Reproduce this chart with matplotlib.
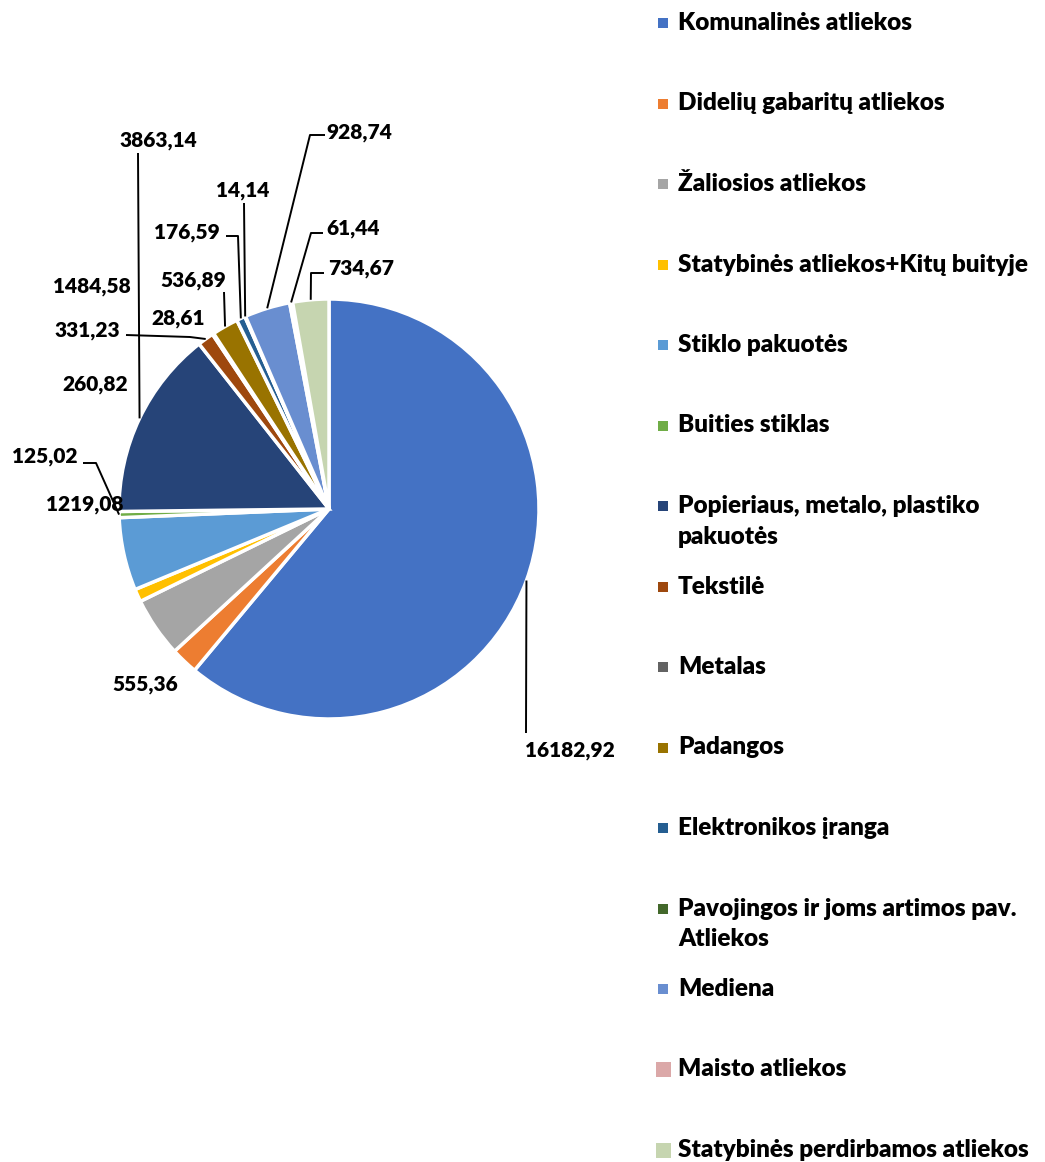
import numpy as np
import matplotlib
matplotlib.use("Agg")
import matplotlib.pyplot as plt
from matplotlib.patches import Rectangle

W, H = 1045, 1162

CATEGORIES = [
    "Komunalinės atliekos",
    "Didelių gabaritų atliekos",
    "Žaliosios atliekos",
    "Statybinės atliekos+Kitų buityje",
    "Stiklo pakuotės",
    "Buities stiklas",
    "Popieriaus, metalo, plastiko\npakuotės",
    "Tekstilė",
    "Metalas",
    "Padangos",
    "Elektronikos įranga",
    "Pavojingos ir joms artimos pav.\nAtliekos",
    "Mediena",
    "Maisto atliekos",
    "Statybinės perdirbamos atliekos",
]
VALUES = [16182.92, 555.36, 1219.08, 260.82, 1484.58, 125.02, 3863.14,
          331.23, 28.61, 536.89, 176.59, 14.14, 928.74, 61.44, 734.67]
COLORS = ["#4472C4", "#ED7D31", "#A5A5A5", "#FFC000", "#5B9BD5", "#70AD47",
          "#264478", "#9E480E", "#636363", "#997300", "#255E91", "#43682B",
          "#698ED0", "#DBA8A8", "#C6D5B0"]

# label placement in pixels (text centre) and elbow points of the leader lines
LABEL_POS = [(570, 750), (145, 683), (85, 503), (95, 383), (92, 285),
             (45, 456), (158, 139), (87, 329), (178, 317), (193, 279),
             (187, 231), (243, 190), (359, 132), (353, 228), (361, 267)]
LEADERS = [[(526, 733)], [], [], [], [], [(83, 463), (96, 463)], [(138, 153)],
           [(126, 335), (190, 337)], [], [(224, 292)], [(226, 236), (238, 236)],
           [(244, 203)], [(325, 135), (310, 135)], [(323, 233), (311, 233)],
           [(324, 273), (311, 273)]]

CX, CY, R = 329, 509, 210
FONT = ["Lato", "DejaVu Sans"]
FS = 15
FS_LEG = 17.5
WEIGHT = "heavy"


def main():
    fig = plt.figure(figsize=(W / 100, H / 100), dpi=100)
    ax = fig.add_axes([0, 0, 1, 1])
    wedges, _ = ax.pie(VALUES, colors=COLORS, startangle=90, counterclock=False,
                       center=(CX, H - CY), radius=R,
                       wedgeprops=dict(edgecolor="white", linewidth=2.5))
    ax.set_xlim(0, W)
    ax.set_ylim(0, H)
    ax.axis("off")

    for w, v, (tx, ty), pts in zip(wedges, VALUES, LABEL_POS, LEADERS):
        if pts:
            th = np.deg2rad((w.theta1 + w.theta2) / 2)
            mx = w.center[0] + w.r * np.cos(th)
            my = w.center[1] + w.r * np.sin(th)
            xs = [p[0] for p in pts] + [mx]
            ys = [H - p[1] for p in pts] + [my]
            ax.plot(xs, ys, color="black", lw=1.4, solid_capstyle="butt")
        ax.text(tx, H - ty - 7, f"{v:.2f}".replace(".", ","), ha="center",
                va="baseline", fontsize=FS, fontweight=WEIGHT, family=FONT)

    # legend, evenly spaced entries like the original
    for i, (name, col) in enumerate(zip(CATEGORIES, COLORS)):
        base = 30 + 80.5 * i
        s = 15 if i >= 13 else 10
        ax.add_patch(Rectangle((663 - s / 2, H - base + 7 - s / 2), s, s,
                               facecolor=col, edgecolor="none"))
        for k, line in enumerate(name.split("\n")):
            ax.text(678, H - base - 31 * k, line, ha="left", va="baseline",
                    fontsize=FS_LEG, fontweight=WEIGHT, family=FONT)

    fig.savefig("out.png", dpi=100)
    plt.close(fig)


if __name__ == "__main__":
    main()
